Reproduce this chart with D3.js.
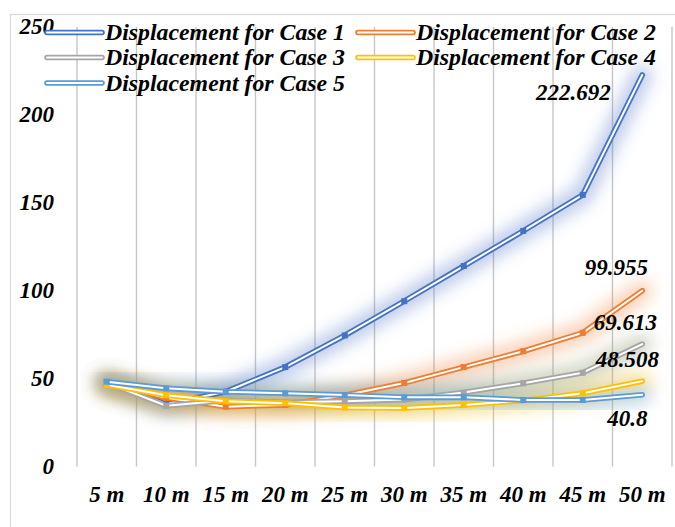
<!DOCTYPE html>
<html>
<head>
<meta charset="utf-8">
<script src="https://cdn.jsdelivr.net/npm/d3@7"></script>
<style>
  html, body { margin: 0; padding: 0; background: #ffffff; }
  svg { display: block; }
  text { font-family: "Liberation Serif", "Times New Roman", serif; font-weight: bold; font-style: italic; fill: #000; }
</style>
</head>
<body>
<svg id="chart" width="675" height="527"></svg>
<script>
// Categories along the x axis
const categories = ["5 m", "10 m", "15 m", "20 m", "25 m", "30 m", "35 m", "40 m", "45 m", "50 m"];

// Displacement values for each case
const case1 = [48, 35.5, 42.5, 56.5, 74.5, 94, 114, 134, 154.5, 222.692];
const case2 = [47, 39, 34, 35, 40.5, 47.5, 56.5, 65.5, 76, 99.955];
const case3 = [47.5, 34.5, 37.5, 36.5, 37, 38, 42, 47.3, 53.3, 69.613];
const case4 = [46.5, 40.5, 37, 36, 33.5, 33.2, 35, 37.5, 41.6, 48.508];
const case5 = [48.2, 44.4, 42.5, 41.6, 40.6, 39.3, 39.3, 37.8, 37.8, 40.8];

const seriesNames = ["Displacement for Case 1", "Displacement for Case 2", "Displacement for Case 3",
                     "Displacement for Case 4", "Displacement for Case 5"];
const yTicks = [0, 50, 100, 150, 200, 250];

const colors = ["#4472C4", "#ED7D31", "#A5A5A5", "#FFC000", "#5B9BD5"];
const glowColors = ["#4472C4", "#ED7D31", "#7f8c5c", "#FFC000", "#5B9BD5"];
// label offsets for the value shown at the last point of each series
const labelOffsets = [[-69, 17], [-26, -24], [-17, -22], [-15, -22], [-15, 23]];

const series = [case1, case2, case3, case4, case5].map((v, i) => ({ name: seriesNames[i], values: v, i }));

const svg = d3.select("#chart");
const margin = { left: 77, right: 3, top: 27, bottom: 61 };
const W = 675, H = 527;

// chart area frame
svg.append("rect").attr("x", 10.5).attr("y", 14.5).attr("width", 700).attr("height", 600)
  .attr("fill", "none").attr("stroke", "#d9d9d9").attr("stroke-width", 1.2);

const x = d3.scaleBand().domain(categories).range([margin.left, W - margin.right]).paddingInner(0).paddingOuter(0);
const y = d3.scaleLinear().domain([0, 250]).range([H - margin.bottom + 0.4, margin.top]);
const cx = c => x(c) + x.bandwidth() / 2;

// filter for the soft glow around each line
const defs = svg.append("defs");
const f = defs.append("filter").attr("id", "glow").attr("x", "-50%").attr("y", "-50%").attr("width", "200%").attr("height", "200%");
f.append("feGaussianBlur").attr("stdDeviation", 8);

// vertical gridlines at category boundaries
const bounds = categories.map(c => x(c)).concat([x(categories[categories.length - 1]) + x.bandwidth()]);
svg.append("g").selectAll("line").data(bounds).join("line")
  .attr("x1", d => d).attr("x2", d => d)
  .attr("y1", y(250)).attr("y2", y(0))
  .attr("stroke", "#c6c6c6").attr("stroke-width", 1.4);

// y axis labels (no axis line)
const yAxis = d3.axisLeft(y).tickValues(yTicks).tickSize(0).tickPadding(0);
const gy = svg.append("g").attr("transform", "translate(54,0)").call(yAxis);
gy.select(".domain").remove();
gy.selectAll("text").attr("font-size", 23).attr("dy", "0.3em")
  .style("font-family", '"Liberation Serif", serif').style("font-weight", "bold").style("font-style", "italic");

// x axis labels
const xAxis = d3.axisBottom(x).tickSize(0).tickPadding(0);
const gx = svg.append("g").attr("transform", `translate(0,${y(0) + 29})`).call(xAxis);
gx.select(".domain").remove();
gx.selectAll("text").attr("font-size", 23).attr("dy", "0.3em")
  .style("font-family", '"Liberation Serif", serif').style("font-weight", "bold").style("font-style", "italic");

const line = d3.line().x((d, i) => cx(categories[i])).y(d => y(d));

// glow layer
svg.append("g").selectAll("path").data(series).join("path")
  .attr("d", s => line(s.values))
  .attr("fill", "none")
  .attr("stroke", s => glowColors[s.i])
  .attr("stroke-opacity", 0.36)
  .attr("stroke-width", 20)
  .attr("stroke-linejoin", "round").attr("stroke-linecap", "round")
  .attr("filter", "url(#glow)");

// double (compound) lines with markers
const lg = svg.append("g");
series.forEach(s => {
  const g = lg.append("g");
  g.append("path").attr("d", line(s.values)).attr("fill", "none")
    .attr("stroke", colors[s.i]).attr("stroke-width", 5.6)
    .attr("stroke-linejoin", "round").attr("stroke-linecap", "round");
  g.append("path").attr("d", line(s.values)).attr("fill", "none")
    .attr("stroke", "#ffffff").attr("stroke-width", 2)
    .attr("stroke-linejoin", "round").attr("stroke-linecap", "round");
  g.selectAll("rect").data(s.values.slice(0, -1)).join("rect")
    .attr("x", (d, i) => cx(categories[i]) - 3)
    .attr("y", d => y(d) - 3)
    .attr("width", 6).attr("height", 6)
    .attr("fill", colors[s.i]);
});

// value labels at the last point
svg.append("g").selectAll("text").data(series).join("text")
  .attr("x", s => cx(categories[categories.length - 1]) + labelOffsets[s.i][0])
  .attr("y", s => y(s.values[s.values.length - 1]) + labelOffsets[s.i][1])
  .attr("dy", "0.35em")
  .attr("text-anchor", "middle")
  .attr("font-size", 23)
  .text(s => String(s.values[s.values.length - 1]));

// legend
const legendPos = [[47, 32.5], [358, 32.5], [47, 57.5], [358, 57.5], [47, 83]];
const lgd = svg.append("g");
series.forEach(s => {
  const [lx, ly] = legendPos[s.i];
  lgd.append("line").attr("x1", lx).attr("x2", lx + 55).attr("y1", ly).attr("y2", ly)
    .attr("stroke", colors[s.i]).attr("stroke-width", 5.6).attr("stroke-linecap", "round");
  lgd.append("line").attr("x1", lx).attr("x2", lx + 55).attr("y1", ly).attr("y2", ly)
    .attr("stroke", "#fff").attr("stroke-width", 2).attr("stroke-linecap", "round");
  lgd.append("text").attr("x", lx + 58).attr("y", ly + 7.5)
    .attr("font-size", 24)
    .attr("textLength", 240).attr("lengthAdjust", "spacingAndGlyphs")
    .text(s.name);
});
</script>
</body>
</html>
